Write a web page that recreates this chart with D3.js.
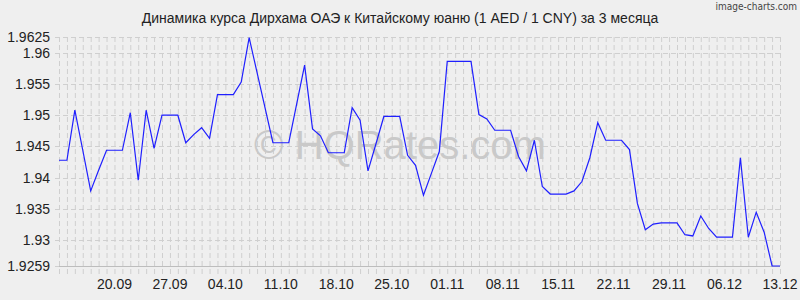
<!DOCTYPE html>
<html>
<head>
<meta charset="utf-8">
<script src="https://cdnjs.cloudflare.com/ajax/libs/d3/7.8.5/d3.min.js"></script>
<style>
  body { margin: 0; background: #efefef; }
  svg { display: block; font-family: Arial, "Liberation Sans", sans-serif; }
</style>
</head>
<body>
<svg width="800" height="300"></svg>
<script>
// daily rate AED/CNY, 13.09 .. 13.12
const startDay = '2023-09-13';
const endDay = '2023-12-13';
const rates = [
  1.9428, 1.9428, 1.9508, 1.9444, 1.9379, 1.9412, 1.9444, 1.9444, 1.9444, 1.9504,
  1.9396, 1.9508, 1.9447, 1.9500, 1.9500, 1.9500, 1.9456, 1.9469, 1.9480, 1.9463,
  1.9533, 1.9533, 1.9533, 1.9553, 1.9624, 1.9568, 1.9512, 1.9456, 1.9456, 1.9456,
  1.9518, 1.9580, 1.9478, 1.9467, 1.9440, 1.9440, 1.9440, 1.9512, 1.9492, 1.9411,
  1.9454, 1.9498, 1.9498, 1.9498, 1.9436, 1.9420, 1.9372, 1.9407, 1.9442, 1.9586,
  1.9586, 1.9586, 1.9586, 1.9501, 1.9494, 1.9476, 1.9476, 1.9476, 1.9434, 1.9411,
  1.9460, 1.9386, 1.9374, 1.9374, 1.9374, 1.9379, 1.9394, 1.9432, 1.9488, 1.9460,
  1.9460, 1.9460, 1.9445, 1.9359, 1.9317, 1.9326, 1.9328, 1.9328, 1.9328, 1.9309,
  1.9307, 1.9339, 1.9319, 1.9305, 1.9305, 1.9305, 1.9432, 1.9305, 1.9345, 1.9313,
  1.9259, 1.9259
];
const yTicks = [1.9259, 1.93, 1.935, 1.94, 1.945, 1.95, 1.955, 1.96, 1.9625];
const xTickLabels = ['20.09', '27.09', '04.10', '11.10', '18.10', '25.10', '01.11',
  '08.11', '15.11', '22.11', '29.11', '06.12', '13.12'];
const title = 'Динамика курса Дирхама ОАЭ к Китайскому юаню (1 AED / 1 CNY) за 3 месяца';

const svg = d3.select('svg');
const width = +svg.attr('width');
const height = +svg.attr('height');
const margin = {top: 37, right: 20, bottom: 34, left: 59};

const parse = d3.timeParse('%Y-%m-%d');
const days = d3.timeDay.range(parse(startDay), d3.timeDay.offset(parse(endDay), 1));
const data = days.map((d, i) => ({date: d, value: rates[i]}));
const fmt = d3.timeFormat('%d.%m');

const x = d3.scaleTime()
    .domain([days[0], days[days.length - 1]])
    .range([margin.left, width - margin.right]);

const y = d3.scaleLinear()
    .domain([yTicks[0], yTicks[yTicks.length - 1]])
    .range([height - margin.bottom, margin.top]);

svg.append('rect').attr('width', width).attr('height', height).attr('fill', '#efefef');

// vertical grid, one line a day
svg.append('g')
    .selectAll('line')
    .data(days)
    .join('line')
    .attr('x1', d => x(d) + 0.5)
    .attr('x2', d => x(d) + 0.5)
    .attr('y1', margin.top)
    .attr('y2', height - margin.bottom + 11)
    .attr('stroke', '#cfcfcf')
    .attr('stroke-dasharray', '5,3');

// horizontal grid
svg.append('g')
    .selectAll('line')
    .data(yTicks)
    .join('line')
    .attr('x1', margin.left - 4)
    .attr('x2', width - margin.right)
    .attr('y1', d => Math.round(y(d)) + 0.5)
    .attr('y2', d => Math.round(y(d)) + 0.5)
    .attr('stroke', '#cfcfcf')
    .attr('stroke-dasharray', '5,3');

// bottom axis line
svg.append('line')
    .attr('x1', margin.left)
    .attr('x2', width - margin.right)
    .attr('y1', Math.round(y(yTicks[0])) + 0.5)
    .attr('y2', Math.round(y(yTicks[0])) + 0.5)
    .attr('stroke', '#bdbdbd');

// watermark
svg.append('text')
    .attr('x', 400)
    .attr('y', 159)
    .attr('text-anchor', 'middle')
    .style('font-size', '40px')
    .style('fill', '#c9c9c9')
    .text('© HQRates.com');

// y labels
svg.append('g')
    .selectAll('text')
    .data(yTicks)
    .join('text')
    .attr('x', margin.left - 9)
    .attr('y', d => y(d))
    .attr('dy', '0.35em')
    .attr('text-anchor', 'end')
    .style('font-size', '14px')
    .style('fill', '#222')
    .text(d => String(+d.toFixed(4)));

// x labels, weekly
const xTicks = days.filter(d => xTickLabels.includes(fmt(d)));
svg.append('g')
    .selectAll('text')
    .data(xTicks)
    .join('text')
    .attr('x', d => x(d))
    .attr('y', 289)
    .attr('text-anchor', 'middle')
    .style('font-size', '14px')
    .style('fill', '#222')
    .text(d => fmt(d));

// rate line
const line = d3.line()
    .x(d => x(d.date))
    .y(d => y(d.value));

svg.append('path')
    .datum(data)
    .attr('d', line)
    .attr('fill', 'none')
    .attr('stroke', '#1f1fff')
    .attr('stroke-width', 1.2);

// title
svg.append('text')
    .attr('x', 400)
    .attr('y', 23)
    .attr('text-anchor', 'middle')
    .style('font-size', '14px')
    .style('fill', '#222')
    .text(title);

svg.append('text')
    .attr('x', 797)
    .attr('y', 10)
    .attr('text-anchor', 'end')
    .style('font-family', '"Liberation Sans Narrow", "DejaVu Sans Condensed", sans-serif')
    .style('font-size', '10px')
    .style('fill', '#444')
    .text('image-charts.com');
</script>
</body>
</html>
